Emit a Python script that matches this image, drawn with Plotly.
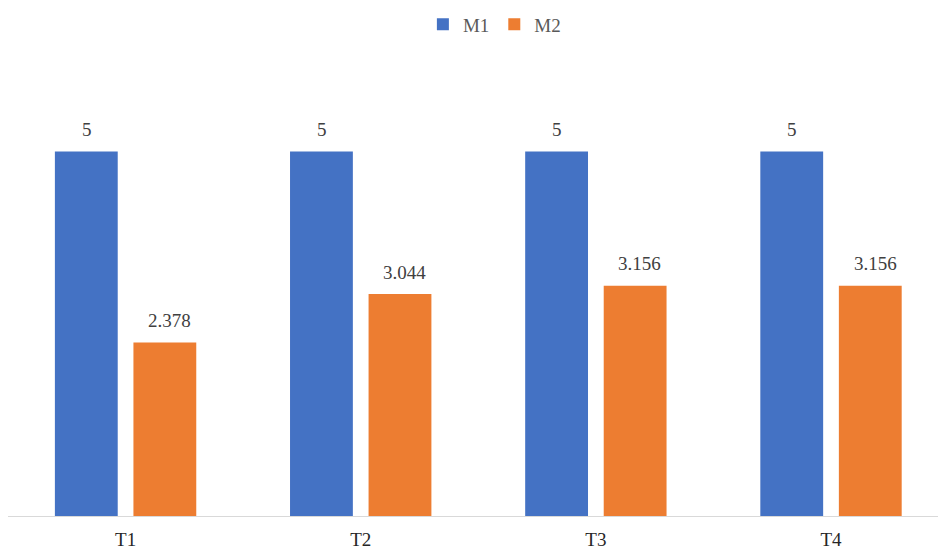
import plotly.graph_objects as go

categories = ["T1", "T2", "T3", "T4"]
m1_values = [5, 5, 5, 5]
m2_values = [2.378, 3.044, 3.156, 3.156]
m1_labels = ["5", "5", "5", "5"]
m2_labels = ["2.378", "3.044", "3.156", "3.156"]

BLUE = "#4472C4"
ORANGE = "#ED7D31"
FONT = "Liberation Serif"

fig = go.Figure()
fig.add_trace(go.Bar(name="M1", x=categories, y=m1_values, marker_color=BLUE, marker_line_width=0))
fig.add_trace(go.Bar(name="M2", x=categories, y=m2_values, marker_color=ORANGE, marker_line_width=0))

top, bottom = 60, 31
plot_h = 550 - top - bottom
ymax = plot_h / 73.4

for cat, v, t in zip(categories, m1_values, m1_labels):
    fig.add_annotation(x=cat, y=v, text=t, showarrow=False, xshift=-39, yshift=22,
                       yanchor="middle", font=dict(family=FONT, size=19, color="#404040"))
for cat, v, t in zip(categories, m2_values, m2_labels):
    fig.add_annotation(x=cat, y=v, text=t, showarrow=False, xshift=44, yshift=22,
                       yanchor="middle", font=dict(family=FONT, size=19, color="#404040"))

fig.update_layout(
    width=938, height=550,
    margin=dict(l=8, r=0, t=top, b=bottom),
    paper_bgcolor="white", plot_bgcolor="white",
    barmode="group", bargap=0.332, bargroupgap=0.2,
    font=dict(family=FONT, size=19, color="#404040"),
    legend=dict(orientation="h", x=0.523, xanchor="center", y=0.99, yanchor="top",
                yref="container", font=dict(family=FONT, size=19, color="#595959"),
                itemwidth=30, traceorder="normal"),
    showlegend=True,
)
fig.update_xaxes(type="category", range=[-0.5, 3.455], showline=True, linecolor="#D9D9D9",
                 linewidth=1, ticks="", showgrid=False, ticklabelstandoff=6,
                 tickfont=dict(family=FONT, size=19, color="#262626"))
fig.update_yaxes(range=[0, ymax], visible=False, showgrid=False, zeroline=False)

fig.write_html("out.html")
